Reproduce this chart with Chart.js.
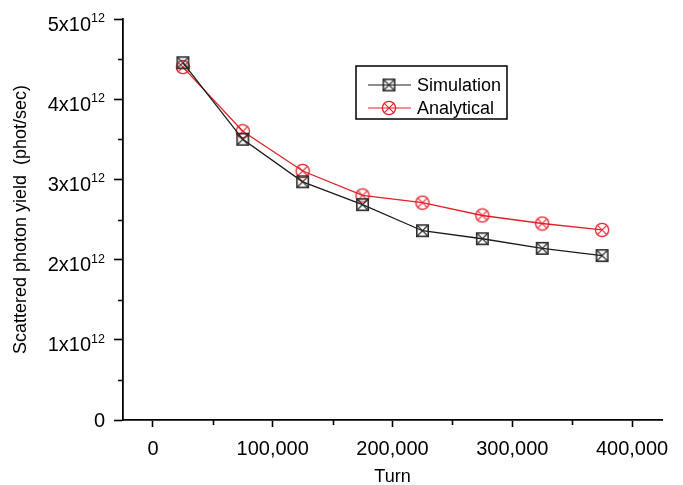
<!DOCTYPE html>
<html>
<head>
<meta charset="utf-8">
<script src="https://cdn.jsdelivr.net/npm/chart.js@4.4.1/dist/chart.umd.min.js"></script>
<style>
  html, body { margin: 0; padding: 0; background: #fff; }
  #wrap { width: 683px; height: 485px; }
</style>
</head>
<body>
<div id="wrap"><canvas id="chart" width="683" height="485"></canvas></div>
<script>
// values
const turns = [25000, 75000, 125000, 175000, 225000, 275000, 325000, 375000];
const simulation = [4.455e12, 3.50e12, 2.97e12, 2.685e12, 2.36e12, 2.26e12, 2.14e12, 2.05e12];
const analytical = [4.40e12, 3.60e12, 3.105e12, 2.80e12, 2.71e12, 2.55e12, 2.45e12, 2.37e12];
const xTicks = [0, 100000, 200000, 300000, 400000];
const xMinor = [50000, 150000, 250000, 350000];
const yTicks = [0, 1e12, 2e12, 3e12, 4e12, 5e12];
const yMinor = [0.5e12, 1.5e12, 2.5e12, 3.5e12, 4.5e12];

const FONT = "'Liberation Sans', Arial, sans-serif";
const BLACK = '#1c1c1c';
const RED = '#e3202a';

// marker images: square with X, circle with X
function squareX() {
  const c = document.createElement('canvas');
  c.width = 15; c.height = 15;
  const g = c.getContext('2d');
  g.strokeStyle = '#2a2a2a'; g.lineWidth = 1.6;
  g.strokeRect(1.8, 1.8, 11.4, 11.4);
  g.lineWidth = 1.1;
  g.beginPath();
  g.moveTo(2.5, 2.5); g.lineTo(12.5, 12.5);
  g.moveTo(12.5, 2.5); g.lineTo(2.5, 12.5);
  g.stroke();
  return c;
}
function circleX() {
  const c = document.createElement('canvas');
  c.width = 16; c.height = 16;
  const g = c.getContext('2d');
  g.strokeStyle = RED; g.lineWidth = 1.3;
  g.beginPath(); g.arc(8, 8, 6.6, 0, Math.PI * 2); g.stroke();
  g.lineWidth = 1.1;
  g.beginPath();
  g.moveTo(3.3, 3.3); g.lineTo(12.7, 12.7);
  g.moveTo(12.7, 3.3); g.lineTo(3.3, 12.7);
  g.stroke();
  return c;
}
const simMarker = squareX();
const anaMarker = circleX();

const extras = {
  id: 'extras',
  afterDraw(chart) {
    const ctx = chart.ctx;
    const xs = chart.scales.x, ys = chart.scales.y;
    const area = chart.chartArea;
    ctx.save();
    // minor ticks
    ctx.strokeStyle = '#000';
    ctx.lineWidth = 1.6;
    ctx.beginPath();
    xMinor.forEach(v => {
      const px = Math.round(xs.getPixelForValue(v)) + 0.5;
      ctx.moveTo(px, area.bottom); ctx.lineTo(px, area.bottom + 5);
    });
    yMinor.forEach(v => {
      const py = Math.round(ys.getPixelForValue(v)) + 0.5;
      ctx.moveTo(area.left, py); ctx.lineTo(area.left - 5, py);
    });
    ctx.stroke();

    // y tick labels with superscript exponent
    ctx.fillStyle = '#000';
    ctx.textAlign = 'right';
    ctx.textBaseline = 'alphabetic';
    const rx = 105;
    yTicks.forEach(v => {
      const py = ys.getPixelForValue(v);
      if (v === 0) {
        ctx.font = '20px ' + FONT;
        ctx.fillText('0', rx, py + 7);
        return;
      }
      ctx.font = '12.5px ' + FONT;
      const sw = ctx.measureText('12').width;
      ctx.fillText('12', rx, py + 3);
      ctx.font = '20px ' + FONT;
      ctx.fillText((v / 1e12) + 'x10', rx - sw, py + 11.5);
    });

    // legend
    ctx.lineWidth = 1.5;
    ctx.strokeStyle = '#000';
    ctx.strokeRect(356, 66, 151, 53);
    const rows = [
      { y: 85, color: BLACK, img: simMarker, text: 'Simulation' },
      { y: 108, color: RED, img: anaMarker, text: 'Analytical' }
    ];
    ctx.font = '18px ' + FONT;
    ctx.textAlign = 'left';
    ctx.textBaseline = 'middle';
    rows.forEach(r => {
      ctx.strokeStyle = r.color;
      ctx.lineWidth = 1.2;
      ctx.beginPath();
      ctx.moveTo(368, r.y); ctx.lineTo(411, r.y);
      ctx.stroke();
      ctx.drawImage(r.img, 389 - r.img.width / 2, r.y - r.img.height / 2);
      ctx.fillStyle = '#000';
      ctx.fillText(r.text, 417, r.y + 1);
    });
    ctx.restore();
  }
};

const ctx = document.getElementById('chart').getContext('2d');
new Chart(ctx, {
  type: 'line',
  data: {
    datasets: [
      {
        label: 'Simulation',
        data: turns.map((t, i) => ({ x: t, y: simulation[i] })),
        borderColor: BLACK,
        borderWidth: 1.3,
        pointStyle: simMarker,
        tension: 0
      },
      {
        label: 'Analytical',
        data: turns.map((t, i) => ({ x: t, y: analytical[i] })),
        borderColor: RED,
        borderWidth: 1.3,
        pointStyle: anaMarker,
        tension: 0
      }
    ]
  },
  options: {
    responsive: false,
    animation: false,
    devicePixelRatio: 1,
    layout: { padding: { top: 19, right: 21, left: 0, bottom: 0 } },
    plugins: {
      legend: { display: false },
      tooltip: { enabled: false }
    },
    scales: {
      x: {
        type: 'linear',
        min: -25000,
        max: 425000,
        afterBuildTicks: s => { s.ticks = xTicks.map(v => ({ value: v })); },
        afterFit: s => { s.height = 65; },
        ticks: {
          color: '#000',
          font: { family: FONT, size: 20 },
          padding: 10,
          maxRotation: 0,
          autoSkip: false,
          callback: v => v.toLocaleString('en-US')
        },
        grid: { drawOnChartArea: false, tickLength: 7, tickColor: '#000', tickWidth: 1.6 },
        border: { color: '#000', width: 1.8 },
        title: {
          display: true,
          text: 'Turn',
          color: '#000',
          font: { family: FONT, size: 18 },
          padding: { top: 0, bottom: -3 }
        }
      },
      y: {
        min: 0,
        max: 5e12,
        afterBuildTicks: s => { s.ticks = yTicks.map(v => ({ value: v })); },
        afterFit: s => { s.width = 123; },
        ticks: { display: false },
        grid: { drawOnChartArea: false, tickLength: 9, tickColor: '#000', tickWidth: 1.6 },
        border: { color: '#000', width: 1.8 },
        title: {
          display: true,
          text: 'Scattered photon yield  (phot/sec)',
          color: '#000',
          font: { family: FONT, size: 18 },
          padding: { top: 10, bottom: 0 }
        }
      }
    }
  },
  plugins: [extras]
});
</script>
</body>
</html>
